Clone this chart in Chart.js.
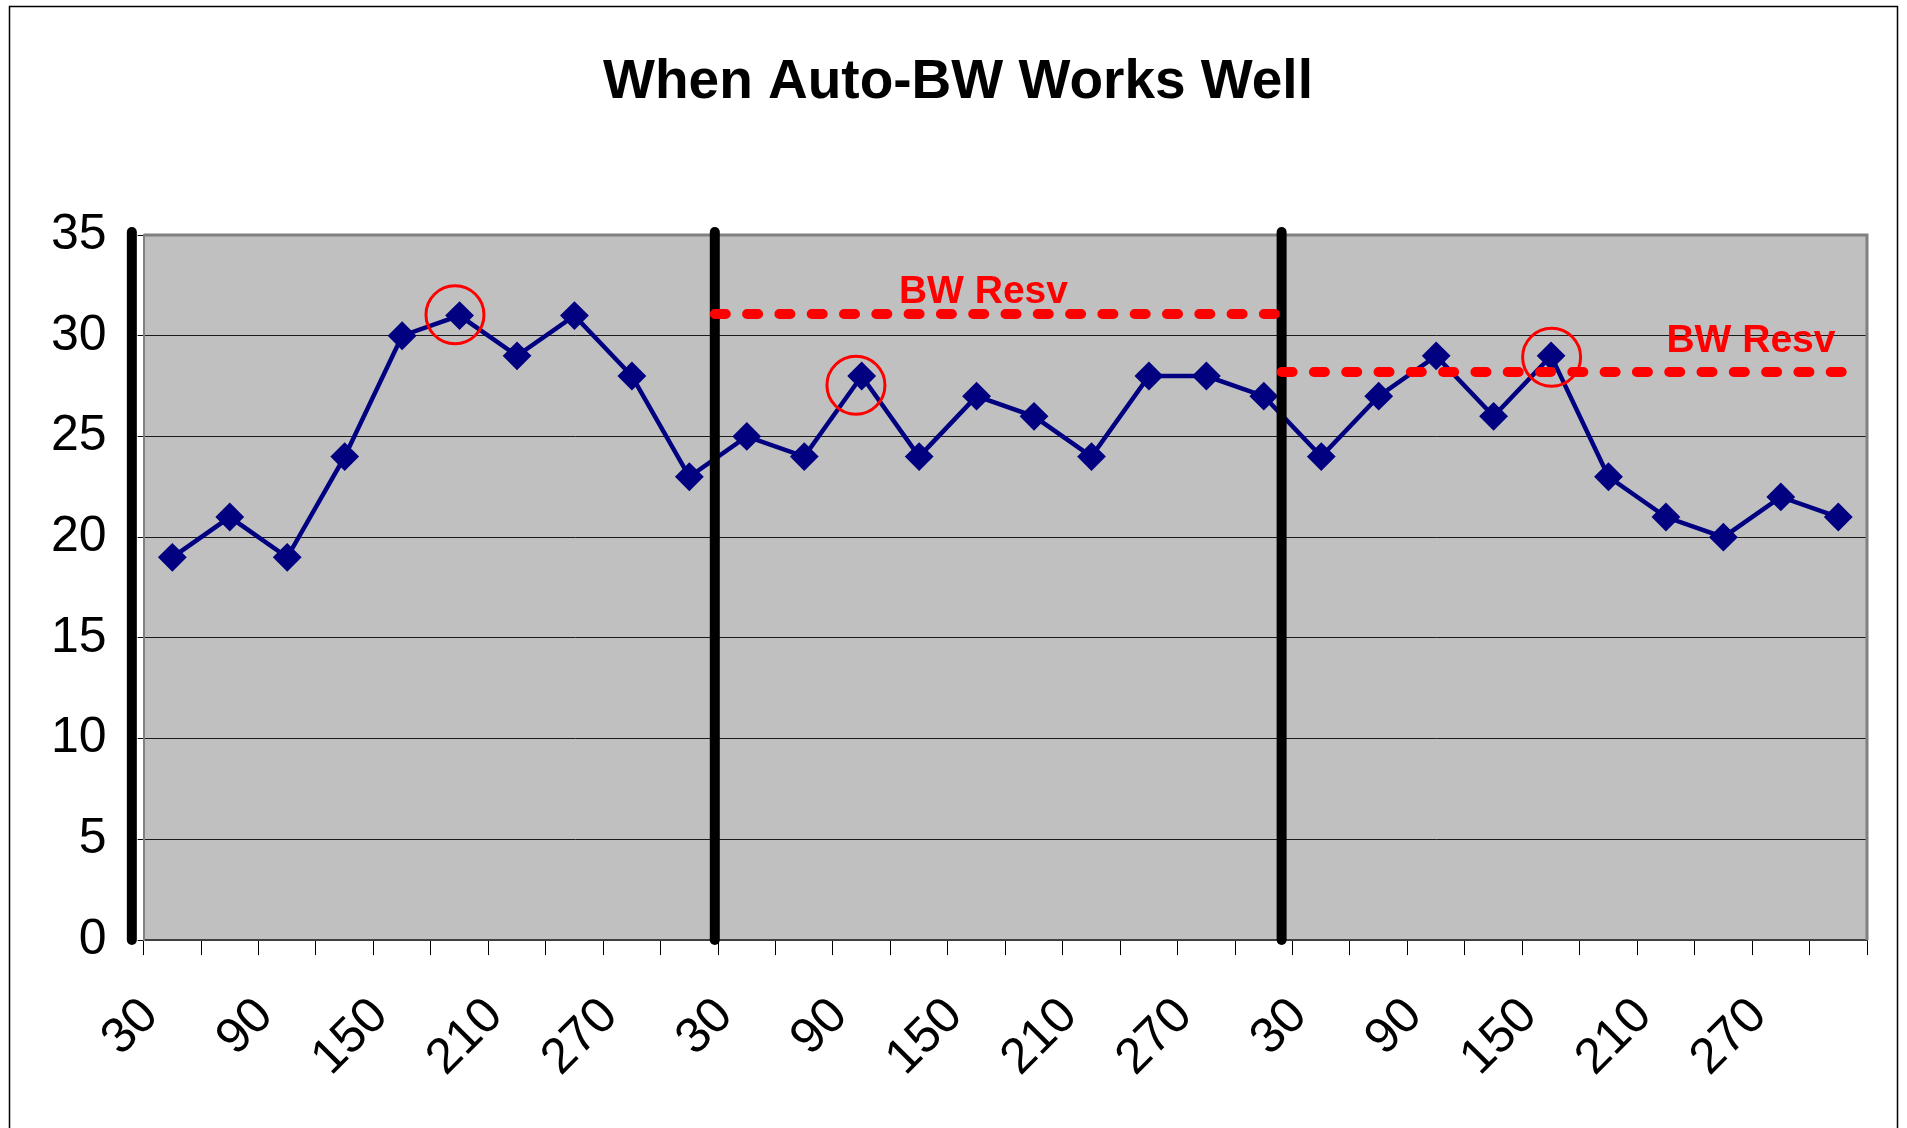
<!DOCTYPE html>
<html>
<head>
<meta charset="utf-8">
<script src="https://cdn.jsdelivr.net/npm/chart.js@4.4.0/dist/chart.umd.min.js"></script>
<style>
  html, body { margin: 0; padding: 0; background: #fff; overflow: hidden; }
  canvas { display: block; }
</style>
</head>
<body>
<canvas id="bw" width="1907" height="1128"></canvas>
<script>
// minutes along the axis (three runs), every other one is labelled
const minutes = [
  "30", "60", "90", "120", "150", "180", "210", "240", "270", "300",
  "30", "60", "90", "120", "150", "180", "210", "240", "270", "300",
  "30", "60", "90", "120", "150", "180", "210", "240", "270", "300",
];
const traffic = [
  19, 21, 19, 24, 30, 31, 29, 31, 28, 23,
  25, 24, 28, 24, 27, 26, 24, 28, 28, 27,
  24, 27, 29, 26, 29, 23, 21, 20, 22, 21,
];
const yTicks = [0, 5, 10, 15, 20, 25, 30, 35];

// hand drawn marks, in axis units (category index / value)
const dividerX = [-0.705, 9.443, 19.31];
const resvFrom = [9.443, 19.31];
const resvTo = [19.31, 29.11];
const resvLevel = [31.08, 28.2];
const circleX = [4.92, 11.9, 24.01];
const circleY = [31.04, 27.54, 28.93];
const noteX = [14.12, 27.48];
const noteY = [32.15, 29.74];
const noteText = ["BW Resv", "BW Resv"];

const FONT = "'Liberation Sans', Arial, sans-serif";

let datasets = [];

// red circles on top
datasets.push({
  xAxisID: "x2",
  data: circleX.map((x, i) => ({ x: x, y: circleY[i] })),
  showLine: false,
  pointStyle: "circle",
  pointRadius: 29,
  pointBorderWidth: 3,
  pointBorderColor: "#ff0000",
  pointBackgroundColor: "rgba(0,0,0,0)",
  clip: false,
  order: 1,
});

for (let i = 0; i < resvLevel.length; i++) {
  datasets.push({
    xAxisID: "x2",
    data: [{ x: resvFrom[i], y: resvLevel[i] }, { x: resvTo[i], y: resvLevel[i] }],
    borderColor: "#ff0000",
    borderWidth: 10,
    borderDash: [11, 21.3],
    borderCapStyle: "round",
    pointRadius: 0,
    clip: false,
    order: 2,
  });
}

for (let i = 0; i < dividerX.length; i++) {
  datasets.push({
    xAxisID: "x2",
    data: [{ x: dividerX[i], y: 0 }, { x: dividerX[i], y: 35.15 }],
    borderColor: "#000000",
    borderWidth: 10,
    borderCapStyle: "round",
    pointRadius: 0,
    clip: false,
    order: 3,
  });
}

datasets.push({
  label: "traffic",
  data: traffic,
  borderColor: "#000080",
  borderWidth: 4.5,
  pointStyle: "rectRot",
  pointRadius: 13,
  pointBorderWidth: 2,
  pointBackgroundColor: "#000080",
  pointBorderColor: "#000080",
  tension: 0,
  order: 5,
});

const plotBox = {
  id: "plotBox",
  afterLayout(chart) {
    // the title sits centred on the whole frame, not on the padded area
    if (chart.titleBlock) {
      chart.titleBlock.left = 29;
      chart.titleBlock.right = 1887;
    }
  },
  beforeDraw(chart) {
    const a = chart.chartArea;
    const ctx = chart.ctx;
    ctx.save();
    ctx.fillStyle = "#c0c0c0";
    ctx.fillRect(a.left, a.top, a.right - a.left, a.bottom - a.top);
    ctx.restore();
  },
  beforeDatasetsDraw(chart) {
    const a = chart.chartArea;
    const ctx = chart.ctx;
    ctx.save();
    ctx.strokeStyle = "#808080";
    ctx.lineWidth = 3;
    ctx.beginPath();
    ctx.moveTo(a.left, a.top);
    ctx.lineTo(a.right, a.top);
    ctx.lineTo(a.right, a.bottom);
    ctx.stroke();
    ctx.restore();
  },
  afterDatasetsDraw(chart) {
    const ctx = chart.ctx;
    const sx = chart.scales.x2;
    const sy = chart.scales.y;
    ctx.save();
    ctx.fillStyle = "#ff0000";
    ctx.font = "bold 39px " + FONT;
    ctx.textAlign = "center";
    ctx.textBaseline = "middle";
    for (let i = 0; i < noteText.length; i++) {
      ctx.fillText(noteText[i], sx.getPixelForValue(noteX[i]), sy.getPixelForValue(noteY[i]));
    }
    ctx.restore();
  },
  afterDraw(chart) {
    // outer frame of the chart object
    const ctx = chart.ctx;
    ctx.save();
    ctx.strokeStyle = "#000";
    ctx.lineWidth = 1.5;
    ctx.strokeRect(9.5, 6.5, 1888, 1300);
    ctx.restore();
  },
};

new Chart(document.getElementById("bw"), {
  type: "line",
  data: { labels: minutes, datasets: datasets },
  plugins: [plotBox],
  options: {
    responsive: false,
    devicePixelRatio: 1,
    animation: false,
    events: [],
    // tick padding counts twice in the axis size, hence the small numbers here
    layout: { autoPadding: false, padding: { left: 20, right: 40, top: 0, bottom: 8.5 } },
    plugins: {
      legend: { display: false },
      tooltip: { enabled: false },
      title: {
        display: true,
        text: "When Auto-BW Works Well",
        color: "#000",
        font: { family: FONT, size: 55, weight: "bold" },
        padding: { top: 50, bottom: 119 },
      },
    },
    scales: {
      x: {
        type: "category",
        offset: true,
        afterFit: (s) => { s.paddingLeft = 0; s.paddingRight = 0; },
        grid: {
          offset: true,
          drawOnChartArea: false,
          tickLength: 15,
          color: "#000",
          lineWidth: 1,
        },
        border: { display: true, color: "#404040", width: 2 },
        ticks: {
          autoSkip: false,
          maxRotation: 45,
          minRotation: 45,
          padding: 31.5,
          labelOffset: -22,
          color: "#000",
          font: { family: FONT, size: 50 },
          callback: (v, i) => (i % 2 === 0 ? minutes[i] : ""),
        },
      },
      x2: {
        type: "linear",
        axis: "x",
        display: false,
        min: -0.5,
        max: 29.5,
      },
      y: {
        min: 0,
        max: 35,
        afterBuildTicks: (s) => { s.ticks = yTicks.map((v) => ({ value: v })); },
        grid: { color: "#1a1a1a", lineWidth: 1, tickLength: 6, tickColor: "#000" },
        border: { display: true, color: "#808080", width: 2 },
        ticks: {
          padding: 31,
          color: "#000",
          font: { family: FONT, size: 50 },
        },
      },
    },
  },
});
</script>
</body>
</html>
